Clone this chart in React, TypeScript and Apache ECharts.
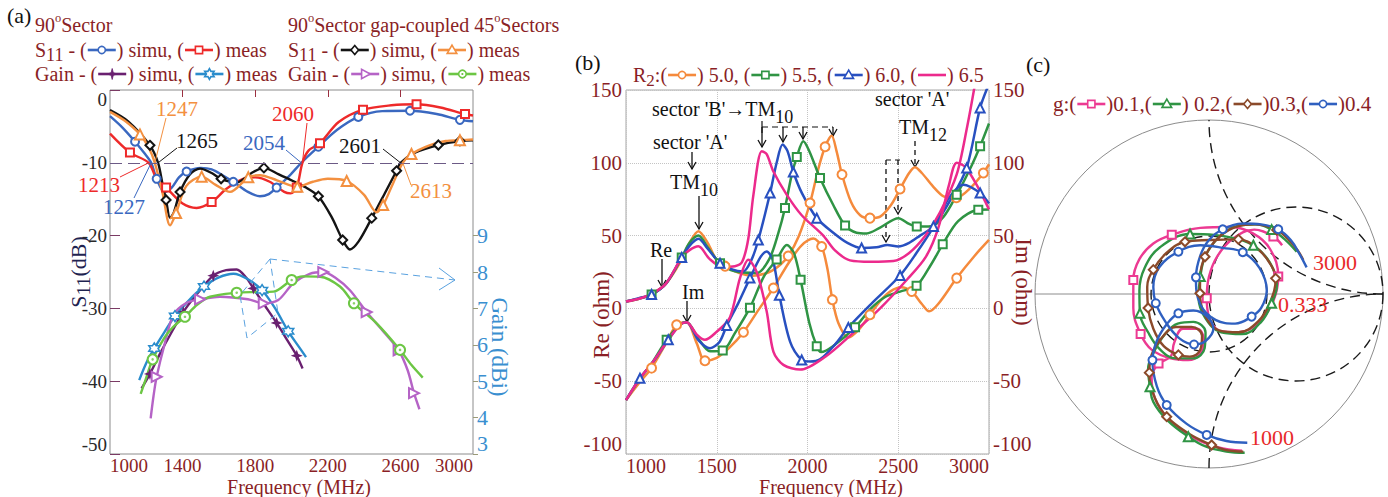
import React, { useEffect, useRef } from 'react';
import * as echarts from 'echarts';

type Pt = number[]; // [x, y, marker?]

const FONT = '"Liberation Serif", "Times New Roman", serif';
const DARK_RED = '#8a1f26';

const COL = {
  blue90: '#3a68c0', red90: '#ee2a2a', blackGap: '#141414', orangeGap: '#f39040',
  purple: '#6a2070', cyan: '#2a8ccc', violet: '#b563c6', lime: '#6cc644',
  r50: '#f58a3c', r55: '#2f9444', r60: '#2850c0', r65: '#ec2a8c',
  g01: '#ec3a92', g02: '#2f9444', g03: '#8b4a2a', g04: '#2f60c0',
};

// ---------- panel (a): S11 and gain ----------
const freqTicksA = [1000, 1400, 1800, 2200, 2600, 3000];
const freqInnerTicksA = [1400, 1800, 2200, 2600];
const gainTicks = [3, 4, 5, 6, 7, 8, 9];
const s11Threshold = -10;

// -10 dB crossings (MHz)
const cross90Simu = [1227, 2054];
const cross90Meas = [1213, 2060];
const crossGapSimu = [1265, 2601];
const crossGapMeas = [1247, 2613];

const s11Sector90Simu: Pt[] = [
  [1000, -3.6], [1070, -5.2], [1138, -7.1, 1], [1190, -8.7], [1227, -10], [1257, -12.2, 1], [1300, -14.0],
  [1340, -13.4], [1380, -12.0], [1422, -11.2, 1], [1500, -10.7], [1560, -10.9], [1620, -11.7], [1679, -12.6, 1],
  [1760, -14.0], [1826, -14.6], [1875, -14.3], [1918, -13.4, 1], [1980, -12.0], [2054, -10], [2148, -7.8, 1],
  [2250, -5.5], [2368, -3.7, 1], [2500, -2.9], [2653, -2.85, 1], [2800, -3.3], [2928, -4.1, 1], [3000, -4.3],
];
const s11Sector90Meas: Pt[] = [
  [1000, -6.0], [1110, -8.6, 1], [1213, -10], [1260, -12.4], [1309, -13.4, 1], [1400, -15.6], [1477, -16.2],
  [1560, -15.4, 1], [1640, -13.6], [1733, -12.2], [1800, -12.0], [1880, -12.6], [1960, -14.0], [1995, -14.2],
  [2029, -13.4, 1], [2060, -10], [2095, -8.3], [2157, -7.3, 1], [2260, -4.4], [2394, -2.7, 1], [2550, -2.1],
  [2689, -1.95, 1], [2820, -2.4], [2956, -3.3, 1], [3000, -3.5],
];
const s11GapSimu: Pt[] = [
  [1000, -2.75], [1100, -4.3], [1220, -7.6, 1], [1265, -10], [1290, -13], [1309, -15.1, 1], [1331, -17.6],
  [1352, -16.8], [1386, -14, 1], [1440, -11.6], [1496, -10.8], [1560, -11.4], [1612, -12.2, 1], [1698, -12.7],
  [1780, -11.4], [1848, -10.7, 1], [1930, -11.6], [2008, -12.5], [2080, -13.4], [2148, -14.6, 1], [2220, -17.4],
  [2282, -20.6, 1], [2322, -21.9], [2370, -20.8], [2442, -17.6, 1], [2520, -13.9], [2579, -11.1, 1], [2601, -10],
  [2680, -8.6], [2809, -7.55, 1], [2928, -7.0, 1], [3000, -6.9],
];
const s11GapMeas: Pt[] = [
  [1000, -3.0], [1080, -4.2], [1165, -6.1, 1], [1215, -8.0], [1247, -10], [1290, -14.2], [1331, -18.6],
  [1364, -16.9, 1], [1420, -13.2], [1505, -11.9, 1], [1580, -13.0], [1661, -14.0], [1762, -12.0, 1],
  [1826, -11.7], [1920, -12.4], [2032, -13.3, 1], [2118, -12.6], [2200, -12.2], [2304, -12.5, 1], [2400, -14.4],
  [2469, -16.8], [2505, -15.8, 1], [2560, -12.8], [2613, -10], [2661, -8.8, 1], [2760, -7.6], [2850, -7.0],
  [2928, -6.9, 1], [3000, -6.8],
];
const gainSector90Simu: Pt[] = [
  [1174, 4.8], [1220, 5.2, 1], [1280, 5.8], [1331, 6.27], [1404, 6.9, 1], [1480, 7.4], [1569, 7.9, 1],
  [1640, 8.05], [1698, 8.07], [1750, 7.85], [1790, 7.55, 1], [1850, 7.1], [1918, 6.6, 1], [1980, 6.1],
  [2029, 5.7, 1], [2061, 5.35],
];
const gainSector90Meas: Pt[] = [
  [1161, 5.03], [1200, 5.5], [1244, 5.9, 1], [1300, 6.35], [1358, 6.79, 1], [1440, 7.25], [1518, 7.6, 1],
  [1600, 7.85], [1680, 7.95], [1760, 7.8], [1838, 7.5, 1], [1910, 7.0], [1982, 6.37, 1], [2040, 5.95], [2080, 5.66],
];
const gainGapSimu: Pt[] = [
  [1224, 3.98], [1240, 4.6], [1257, 5.12, 1], [1300, 6.0], [1349, 6.82], [1420, 7.15], [1496, 7.25, 1],
  [1606, 7.32], [1760, 7.25], [1847, 7.14, 1], [1927, 7.23], [2010, 7.69], [2100, 7.95], [2175, 8.0, 1],
  [2240, 7.85], [2322, 7.5], [2414, 6.9, 1], [2500, 6.4], [2590, 5.85, 1], [2640, 5.3], [2675, 4.67, 1], [2705, 4.23],
];
const gainGapMeas: Pt[] = [
  [1169, 4.65], [1200, 5.1], [1235, 5.6, 1], [1300, 6.2], [1350, 6.5], [1413, 6.77, 1], [1480, 7.1],
  [1551, 7.32], [1698, 7.43, 1], [1800, 7.45], [1900, 7.46], [2001, 7.78, 1], [2060, 7.88], [2157, 7.87],
  [2267, 7.6], [2344, 7.14, 1], [2469, 6.59], [2598, 5.86, 1], [2660, 5.45], [2723, 5.1],
];

// ---------- panel (b): input impedance for R2 ----------
const reR50: Pt[] = [
  [1000, 4.7], [1080, 7], [1150, 10.5], [1220, 17], [1300, 32], [1350, 45], [1399, 53], [1450, 45], [1500, 33],
  [1546, 29, 1], [1620, 24.5], [1700, 22.5], [1790, 25], [1850, 30], [1894, 36, 1], [1950, 49], [2014, 72.4, 1],
  [2060, 96], [2097, 111, 1], [2133, 118.5], [2160, 108], [2190, 92, 1], [2240, 73], [2290, 64], [2344, 62, 1],
  [2400, 63], [2460, 71], [2510, 82, 1], [2560, 93], [2592, 97], [2630, 93], [2690, 84], [2750, 77],
  [2820, 76, 1], [2900, 83], [2969, 93, 1], [3000, 99],
];
const imR50: Pt[] = [
  [1000, -63], [1080, -50], [1141, -41, 1], [1220, -24], [1279, -11.3, 1], [1334, -9.5], [1390, -24],
  [1435, -36, 1], [1500, -34], [1570, -27], [1647, -16.4, 1], [1730, -1], [1812, 14, 1], [1895, 31], [1965, 43],
  [2032, 48], [2078, 42.5, 1], [2110, 27], [2137, 6, 1], [2170, -10], [2225, -20], [2280, -15], [2344, -4.4, 1],
  [2400, 5], [2455, 11.5], [2515, 14.5], [2574, 11.6, 1], [2630, 3], [2670, -2], [2720, 3], [2822, 20.8, 1],
  [2920, 36], [3000, 47],
];
const reR55: Pt[] = [
  [1000, 4.7], [1080, 7], [1141, 9.5, 1], [1220, 17], [1307, 35, 1], [1350, 45], [1399, 50], [1450, 42],
  [1518, 31, 1], [1600, 25.5], [1720, 24.3], [1790, 34], [1840, 52], [1876, 69, 1], [1910, 90], [1941, 104, 1],
  [1977, 114.8], [2010, 108], [2069, 89.6, 1], [2142, 71], [2207, 57, 1], [2270, 52], [2326, 51.5], [2400, 55.5],
  [2501, 62], [2560, 58], [2602, 56.3, 1], [2680, 56.5], [2750, 63], [2822, 78, 1], [2900, 97], [2951, 111.4, 1],
  [3000, 127],
];
const imR55: Pt[] = [
  [1000, -63], [1077, -48], [1141, -38], [1224, -21.6, 1], [1300, -11], [1334, -9.5], [1400, -21], [1463, -29.5],
  [1533, -29, 1], [1600, -17], [1683, 0.5, 1], [1760, 22], [1830, 33.5, 1], [1886, 43.5], [1925, 38],
  [1962, 19.6, 1], [2010, -10], [2051, -26, 1], [2075, -30], [2140, -26], [2262, -13, 1], [2350, 0], [2430, 8],
  [2510, 11.5], [2601, 15.5, 1], [2680, 30], [2745, 44, 1], [2830, 60], [2941, 67.8, 1], [3000, 68],
];
const reR60: Pt[] = [
  [1000, 4.7], [1070, 7], [1141, 9.5, 1], [1220, 17], [1307, 35, 1], [1350, 43], [1399, 47.8], [1450, 41],
  [1518, 31, 1], [1580, 27], [1645, 25.4], [1690, 33], [1729, 47, 1], [1794, 79.3, 1], [1830, 100],
  [1863, 112.5], [1890, 108], [1922, 93.7, 1], [1970, 79], [2051, 62, 1], [2142, 52], [2220, 45],
  [2298, 41.5, 1], [2380, 42], [2440, 43.5], [2500, 42.5], [2560, 45], [2620, 50], [2694, 56.3, 1], [2790, 75],
  [2877, 96.5, 1], [2951, 137.7, 1], [2996, 153],
];
const imR60: Pt[] = [
  [1000, -63], [1077, -48, 1], [1160, -35], [1233, -21.6, 1], [1300, -11], [1334, -9.5], [1400, -22],
  [1463, -27.4], [1515, -23], [1555, -11.8, 1], [1620, 4], [1683, 20.8, 1], [1740, 35], [1775, 39.1], [1810, 33],
  [1845, 9, 1], [1904, -22.8], [1968, -35.4, 1], [2014, -36.5], [2069, -35], [2150, -25], [2225, -13.1, 1],
  [2350, 3], [2510, 22.6, 1], [2600, 38], [2694, 56], [2780, 76], [2859, 85], [2951, 79.3, 1], [3000, 72],
];
const reR65: Pt[] = [
  [1000, 4.7], [1080, 7], [1150, 10.5], [1220, 17], [1307, 35], [1350, 40], [1399, 42.6], [1460, 34],
  [1530, 28.5], [1600, 29], [1640, 32], [1674, 48], [1702, 78], [1748, 108], [1775, 106], [1812, 94], [1886, 78],
  [1968, 64], [2087, 50], [2150, 40], [2234, 33], [2350, 32], [2473, 32.5], [2560, 38], [2650, 50], [2730, 66],
  [2822, 92], [2880, 125], [2920, 152],
];
const imR65: Pt[] = [
  [1000, -63], [1077, -48], [1141, -38], [1233, -21.6], [1300, -11], [1334, -9.5], [1390, -18], [1435, -21.6],
  [1500, -16], [1573, -6], [1628, 20.8], [1674, 33.4], [1720, 25], [1775, -2], [1812, -29.7], [1867, -38.8],
  [1960, -42], [2100, -33], [2250, -17], [2400, 0], [2550, 20], [2650, 35], [2720, 55], [2780, 85], [2822, 100],
  [2870, 97], [2940, 83], [3000, 68],
];

// ---------- panel (c): reflection coefficient (real, imag) ----------
const gammaCircleRadius = 0.333;
const smithG01: Pt[] = [
  [0.19, -0.9], [0.05, -0.88], [-0.1, -0.82], [-0.23, -0.72], [-0.31, -0.6], [-0.33, -0.48], [-0.29, -0.4, 1],
  [-0.22, -0.36], [-0.2, -0.28], [-0.15, -0.2], [-0.07, -0.2], [-0.03, -0.26], [-0.05, -0.34], [-0.12, -0.38],
  [-0.22, -0.37], [-0.33, -0.32], [-0.393, -0.23, 1], [-0.435, -0.08], [-0.435, 0.08, 1], [-0.4, 0.2],
  [-0.32, 0.29], [-0.214, 0.34, 1], [-0.05, 0.38], [0.12, 0.385], [0.25, 0.35], [0.35, 0.26], [0.398, 0.1, 1],
  [0.37, -0.04], [0.29, -0.16], [0.17, -0.22], [0.06, -0.21], [0.0, -0.13], [-0.013, -0.025, 1], [0.0, 0.1],
  [0.05, 0.22], [0.14, 0.32], [0.26, 0.37], [0.37, 0.33, 1], [0.42, 0.28],
];
const smithG02: Pt[] = [
  [0.205, -0.912], [0.1, -0.905], [-0.02, -0.876], [-0.119, -0.82, 1], [-0.24, -0.725], [-0.32, -0.62],
  [-0.339, -0.533, 1], [-0.35, -0.43], [-0.32, -0.34], [-0.26, -0.24], [-0.18, -0.17], [-0.09, -0.16],
  [-0.02, -0.22], [-0.025, -0.31], [-0.09, -0.37], [-0.19, -0.37], [-0.28, -0.32], [-0.35, -0.22],
  [-0.397, -0.111, 1], [-0.4, 0.02], [-0.37, 0.15], [-0.28, 0.27], [-0.109, 0.345, 1], [0.03, 0.34],
  [0.15, 0.32], [0.255, 0.28, 1], [0.35, 0.18], [0.39, 0.05], [0.36, -0.053, 1], [0.3, -0.16], [0.19, -0.23],
  [0.07, -0.22], [-0.02, -0.14], [-0.06, -0.02], [-0.05, 0.1, 1], [-0.02, 0.22], [0.06, 0.33], [0.16, 0.39],
  [0.27, 0.4], [0.36, 0.37, 1], [0.44, 0.31], [0.504, 0.243],
];
const smithG03: Pt[] = [
  [0.197, -0.906], [0.1, -0.897], [0.015, -0.868, 1], [-0.12, -0.8], [-0.243, -0.705, 1], [-0.31, -0.6],
  [-0.343, -0.452, 1], [-0.33, -0.35], [-0.27, -0.25], [-0.19, -0.19], [-0.1, -0.19], [-0.04, -0.24],
  [-0.05, -0.32], [-0.11, -0.36], [-0.176, -0.35, 1], [-0.26, -0.3], [-0.32, -0.2], [-0.35, -0.08, 1],
  [-0.355, 0.04], [-0.32, 0.14, 1], [-0.24, 0.24], [-0.138, 0.3, 1], [0.0, 0.31], [0.169, 0.314, 1],
  [0.29, 0.25], [0.36, 0.16], [0.383, 0.09, 1], [0.35, -0.05], [0.28, -0.16], [0.17, -0.22], [0.06, -0.21],
  [-0.02, -0.13], [-0.052, 0.004, 1], [-0.05, 0.11], [-0.023, 0.214, 1], [0.04, 0.31], [0.14, 0.38],
  [0.26, 0.4], [0.389, 0.368, 1], [0.46, 0.31], [0.51, 0.25], [0.542, 0.195],
];
const smithG04: Pt[] = [
  [0.22, -0.855], [0.1, -0.845], [-0.013, -0.81, 1], [-0.13, -0.745], [-0.243, -0.638, 1], [-0.3, -0.53],
  [-0.325, -0.38, 1], [-0.3, -0.27], [-0.24, -0.17], [-0.176, -0.111, 1], [-0.09, -0.095], [-0.01, -0.13],
  [0.025, -0.2], [-0.02, -0.27], [-0.086, -0.29, 1], [-0.17, -0.255], [-0.25, -0.16], [-0.306, -0.053, 1],
  [-0.32, 0.04], [-0.285, 0.155], [-0.176, 0.243, 1], [-0.05, 0.28], [0.08, 0.265], [0.194, 0.24, 1],
  [0.29, 0.15], [0.332, 0.02], [0.3, -0.08], [0.245, -0.13, 1], [0.15, -0.17], [0.04, -0.15], [-0.05, -0.06],
  [-0.075, 0.096, 1], [-0.05, 0.22], [0.0, 0.31], [0.079, 0.372, 1], [0.2, 0.405], [0.3, 0.4],
  [0.398, 0.372, 1], [0.47, 0.31], [0.52, 0.23], [0.561, 0.153],
];

// ---------- helpers ----------
let measureCtx: CanvasRenderingContext2D | null = null;
function textWidth(s: string, size: number) {
  if (!measureCtx) measureCtx = document.createElement('canvas').getContext('2d');
  measureCtx!.font = `${size}px ${FONT}`;
  return measureCtx!.measureText(s).width;
}

function toData(pts: Pt[]) {
  return pts.map((p) => (p[2] ? [p[0], p[1]] : { value: [p[0], p[1]], symbol: 'none' }));
}

const STAR4 = 'path://M0,-6 L1.6,-1.6 L6,0 L1.6,1.6 L0,6 L-1.6,1.6 L-6,0 L-1.6,-1.6 Z';
const STAR6 = 'path://M0,-6 L1.7,-3 L5.2,-3 L3.5,0 L5.2,3 L1.7,3 L0,6 L-1.7,3 L-5.2,3 L-3.5,0 L-5.2,-3 L-1.7,-3 Z';
const plainNumber = (v: number) => String(v);

function curve(pts: Pt[], o: any) {
  const hollowPath = o.hollowPath;
  return {
    type: 'line',
    xAxisIndex: o.x,
    yAxisIndex: o.y,
    smooth: o.smooth ?? 0.3,
    z: o.z ?? 3,
    symbol: o.symbol ?? 'none',
    symbolSize: o.size ?? 8,
    symbolRotate: o.rotate ?? 0,
    showSymbol: !!o.symbol,
    data: toData(pts),
    lineStyle: { color: o.color, width: o.width ?? 2.4 },
    itemStyle: hollowPath
      ? { color: '#fff', borderColor: o.color, borderWidth: 1.5 }
      : { color: o.color, borderWidth: 1.6 },
    emphasis: { disabled: true },
    silent: true,
  };
}

const ICON_W = 30;
function starPts(cx: number, cy: number, R: number, r: number, n: number) {
  const pts: number[][] = [];
  for (let i = 0; i < n * 2; i++) {
    const a = -Math.PI / 2 + (i * Math.PI) / n;
    const rr = i % 2 === 0 ? R : r;
    pts.push([cx + rr * Math.cos(a), cy + rr * Math.sin(a)]);
  }
  return pts;
}
function iconEls(x: number, color: string, shape: string) {
  const cx = x + ICON_W / 2;
  const cy = 0;
  const hollow = { fill: '#fff', stroke: color, lineWidth: 1.6 };
  const els: any[] = [
    { type: 'line', shape: { x1: x + 1, y1: cy, x2: x + ICON_W - 1, y2: cy }, style: { stroke: color, lineWidth: 2.6 } },
  ];
  const poly = (points: number[][], style: any) => ({ type: 'polygon', shape: { points }, style });
  switch (shape) {
    case 'circle': els.push({ type: 'circle', shape: { cx, cy, r: 3.6 }, style: hollow }); break;
    case 'dotCircle':
      els.push({ type: 'circle', shape: { cx, cy, r: 3.8 }, style: hollow });
      els.push({ type: 'circle', shape: { cx, cy, r: 1.1 }, style: { fill: color } });
      break;
    case 'rect': els.push({ type: 'rect', shape: { x: cx - 3.6, y: cy - 3.6, width: 7.2, height: 7.2 }, style: hollow }); break;
    case 'diamond': els.push(poly([[cx, cy - 4.6], [cx + 3.8, cy], [cx, cy + 4.6], [cx - 3.8, cy]], hollow)); break;
    case 'triangle': els.push(poly([[cx, cy - 4.8], [cx + 4.8, cy + 3.4], [cx - 4.8, cy + 3.4]], hollow)); break;
    case 'triR': els.push(poly([[cx + 5, cy], [cx - 3.6, cy - 4.6], [cx - 3.6, cy + 4.6]], hollow)); break;
    case 'star4': els.push(poly(starPts(cx, cy, 5.5, 1.6, 4), { fill: color, stroke: color, lineWidth: 0.8 })); break;
    case 'star6': els.push(poly(starPts(cx, cy, 5.4, 3, 6), hollow)); break;
    default: break;
  }
  return els;
}

type Seg = { t?: string; scale?: number; dy?: number; color?: string; icon?: [string, string] };

function richLine(segs: Seg[], size: number, color: string, x0: number, y0: number, opts: any = {}) {
  const children: any[] = [];
  let x = 0;
  for (const s of segs) {
    if (s.icon) {
      children.push(...iconEls(x, s.icon[0], s.icon[1]));
      x += ICON_W;
      continue;
    }
    const fs = size * (s.scale ?? 1);
    children.push({
      type: 'text',
      x,
      y: s.dy ?? 0,
      style: {
        text: s.t, font: `${fs}px ${FONT}`, fill: s.color ?? color,
        textAlign: 'left', textVerticalAlign: 'middle',
      },
    });
    x += textWidth(s.t as string, fs);
  }
  const shift = opts.center ? -x / 2 : 0;
  return {
    type: 'group', x: x0, y: y0, rotation: opts.rotation ?? 0, z: 50,
    children: [{ type: 'group', x: shift, children }],
  };
}

function plainText(text: string, x: number, y: number, size: number, color: string, align = 'left') {
  return {
    type: 'text', x, y, z: 50,
    style: { text, font: `${size}px ${FONT}`, fill: color, textAlign: align, textVerticalAlign: 'middle' },
  };
}

function arrowDown(x: number, y1: number, y2: number, dashed = false, color = '#111') {
  const line: any = { stroke: color, lineWidth: 1.3 };
  if (dashed) line.lineDash = [5, 4];
  return {
    type: 'group', z: 50,
    children: [
      { type: 'line', shape: { x1: x, y1, x2: x, y2 }, style: line },
      { type: 'polyline', shape: { points: [[x - 4, y2 - 7], [x, y2], [x + 4, y2 - 7]] }, style: { stroke: color, lineWidth: 1.3, fill: 'none' } },
    ],
  };
}

function buildOption() {
  const axisFont = { fontFamily: FONT };
  const series: any[] = [];

  // panel (a): S11
  const s11a = curve(s11Sector90Simu, { x: 0, y: 0, color: COL.blue90, symbol: 'emptyCircle', size: 8 });
  (s11a as any).markLine = {
    silent: true, symbol: ['none', 'none'], label: { show: false },
    lineStyle: { color: '#6c5a86', width: 1, type: [12, 6] },
    data: [{ yAxis: s11Threshold }],
  };
  series.push(s11a);
  series.push(curve(s11Sector90Meas, { x: 0, y: 0, color: COL.red90, symbol: 'emptyRect', size: 8 }));
  series.push(curve(s11GapSimu, { x: 0, y: 0, color: COL.blackGap, symbol: 'emptyDiamond', size: 9 }));
  series.push(curve(s11GapMeas, { x: 0, y: 0, color: COL.orangeGap, symbol: 'emptyTriangle', size: 10 }));
  // panel (a): gain
  series.push(curve(gainSector90Simu, { x: 0, y: 1, color: COL.purple, symbol: STAR4, size: 12 }));
  series.push(curve(gainSector90Meas, { x: 0, y: 1, color: COL.cyan, symbol: STAR6, size: 11, hollowPath: true }));
  series.push(curve(gainGapSimu, { x: 0, y: 1, color: COL.violet, symbol: 'emptyTriangle', size: 10, rotate: -90 }));
  series.push(curve(gainGapMeas, { x: 0, y: 1, color: COL.lime, symbol: 'emptyCircle', size: 10 }));
  series.push({
    type: 'scatter', xAxisIndex: 0, yAxisIndex: 1, symbol: 'circle', symbolSize: 2.6, silent: true, z: 4,
    itemStyle: { color: COL.lime }, data: gainGapMeas.filter((p) => p[2]).map((p) => [p[0], p[1]]),
  });

  // panel (b)
  const bSets: [Pt[], Pt[], string, string, number][] = [
    [reR50, imR50, COL.r50, 'emptyCircle', 9],
    [reR55, imR55, COL.r55, 'emptyRect', 8],
    [reR60, imR60, COL.r60, 'emptyTriangle', 9],
    [reR65, imR65, COL.r65, '', 0],
  ];
  for (const [re, im, color, sym, size] of bSets) {
    series.push(curve(re, { x: 2, y: 2, color, symbol: sym || undefined, size, width: 2.5 }));
    series.push(curve(im, { x: 2, y: 2, color, symbol: sym || undefined, size, width: 2.5 }));
  }

  // panel (c): chart grid circles
  series.push({
    type: 'custom', xAxisIndex: 3, yAxisIndex: 4, data: [[0, 0]], silent: true, z: 1,
    renderItem: (_p: any, api: any) => {
      const o = api.coord([0, 0]);
      const e = api.coord([1, 0]);
      const R = e[0] - o[0];
      const dash = { fill: 'none', stroke: '#1a1a1a', lineWidth: 1.4, lineDash: [10, 6] };
      return {
        type: 'group',
        children: [
          { type: 'circle', shape: { cx: o[0], cy: o[1], r: R }, style: { fill: 'none', stroke: '#8c8c8c', lineWidth: 1 } },
          { type: 'line', shape: { x1: o[0] - R, y1: o[1], x2: o[0] + R, y2: o[1] }, style: { stroke: '#8c8c8c', lineWidth: 1 } },
          { type: 'circle', shape: { cx: o[0], cy: o[1], r: R * gammaCircleRadius }, style: dash },
          { type: 'circle', shape: { cx: o[0] + R * 0.5, cy: o[1], r: R * 0.5 }, style: dash },
          { type: 'arc', shape: { cx: o[0] + R, cy: o[1] - R, r: R, startAngle: Math.PI / 2, endAngle: Math.PI, clockwise: true }, style: dash },
          { type: 'arc', shape: { cx: o[0] + R, cy: o[1] + R, r: R, startAngle: Math.PI, endAngle: Math.PI * 1.5, clockwise: true }, style: dash },
        ],
      };
    },
  });
  series.push(curve(smithG01, { x: 3, y: 4, color: COL.g01, symbol: 'emptyRect', size: 8, smooth: 0.4 }));
  series.push(curve(smithG02, { x: 3, y: 4, color: COL.g02, symbol: 'emptyTriangle', size: 9, smooth: 0.4 }));
  series.push(curve(smithG03, { x: 3, y: 4, color: COL.g03, symbol: 'emptyDiamond', size: 9, smooth: 0.4 }));
  series.push(curve(smithG04, { x: 3, y: 4, color: COL.g04, symbol: 'emptyCircle', size: 8, smooth: 0.4 }));

  return {
    animation: false,
    textStyle: axisFont,
    grid: [
      { left: 110, top: 90, width: 363, height: 364, show: true, borderColor: '#8c8c8c', borderWidth: 1 },
      { left: 626, top: 90, width: 363, height: 364, show: true, borderColor: '#a6a6a6', borderWidth: 1 },
      { left: 1035, top: 120, width: 348, height: 348, show: false },
    ],
    xAxis: [
      {
        gridIndex: 0, type: 'value', min: 1000, max: 3000, position: 'bottom',
        axisLine: { show: false }, axisTick: { show: false }, splitLine: { show: false },
        axisLabel: {
          customValues: freqTicksA, color: DARK_RED, fontSize: 19, fontFamily: FONT, margin: 2,
          alignMinLabel: 'left', alignMaxLabel: 'right', formatter: plainNumber,
        },
      },
      {
        gridIndex: 0, type: 'value', min: 1000, max: 3000, position: 'top',
        axisLine: { show: false }, splitLine: { show: false }, axisLabel: { show: false },
        axisTick: { show: true, inside: true, length: 7, customValues: freqInnerTicksA, lineStyle: { color: '#9b3040', width: 1 } },
      },
      {
        gridIndex: 1, type: 'value', min: 1000, max: 3000, interval: 500,
        axisLine: { show: false }, axisTick: { show: false },
        splitLine: { show: true, lineStyle: { type: 'dotted', color: '#c4c4c4' } },
        axisLabel: {
          color: DARK_RED, fontSize: 20, fontFamily: FONT, margin: 2,
          alignMinLabel: 'left', alignMaxLabel: 'right', formatter: plainNumber,
        },
      },
      { gridIndex: 2, type: 'value', min: -1, max: 1, show: false },
    ],
    yAxis: [
      {
        gridIndex: 0, type: 'value', min: -50, max: 0, interval: 10,
        axisLine: { show: false }, splitLine: { show: false },
        axisTick: { show: true, inside: true, length: 10, lineStyle: { color: '#7a3a64' } },
        axisLabel: {
          color: '#2a2a2a', fontSize: 19, fontFamily: FONT, margin: 3,
          verticalAlignMinLabel: 'bottom', verticalAlignMaxLabel: 'top',
        },
      },
      {
        gridIndex: 0, type: 'value', min: 3, max: 13, interval: 1, position: 'right',
        axisLine: { show: false }, splitLine: { show: false },
        axisTick: { show: true, length: 5, customValues: gainTicks, lineStyle: { color: '#9a9a78' } },
        axisLabel: {
          customValues: gainTicks, color: '#3a8fd0', fontSize: 22, fontFamily: FONT, margin: 4,
          verticalAlignMinLabel: 'bottom', formatter: (v: number) => (v <= 9 ? String(v) : ''),
        },
      },
      {
        gridIndex: 1, type: 'value', min: -100, max: 150, interval: 50,
        axisLine: { show: false }, axisTick: { show: false },
        splitLine: { show: true, lineStyle: { type: 'dotted', color: '#c4c4c4' } },
        axisLabel: { color: DARK_RED, fontSize: 21, fontFamily: FONT, margin: 4, verticalAlignMinLabel: 'bottom' },
      },
      {
        gridIndex: 1, type: 'value', min: -100, max: 150, interval: 50, position: 'right',
        axisLine: { show: false }, axisTick: { show: false }, splitLine: { show: false },
        axisLabel: { color: DARK_RED, fontSize: 21, fontFamily: FONT, margin: 4, verticalAlignMinLabel: 'bottom' },
      },
      { gridIndex: 2, type: 'value', min: -1, max: 1, show: false },
    ],
    series,
  };
}

function buildGraphics(chart: any) {
  const els: any[] = [];
  const LS = 20;
  const sup = (t: string): Seg => ({ t, scale: 0.62, dy: -7 });
  const sub = (t: string): Seg => ({ t, scale: 0.9, dy: 5 });

  // panel letters
  els.push(plainText('(a)', 7, 15, 22, '#111'));
  els.push(plainText('(b)', 575, 62, 22, '#111'));
  els.push(plainText('(c)', 1026, 64, 22, '#111'));

  // panel (a) legend
  els.push(richLine([{ t: '90' }, sup('o'), { t: 'Sector' }], LS, DARK_RED, 35, 25));
  els.push(richLine([{ t: '90' }, sup('o'), { t: 'Sector gap-coupled 45' }, sup('o'), { t: 'Sectors' }], LS, DARK_RED, 288, 25));
  els.push(richLine([{ t: 'S' }, sub('11'), { t: ' - (' }, { icon: [COL.blue90, 'circle'] }, { t: ') simu, (' },
    { icon: [COL.red90, 'rect'] }, { t: ') meas' }], LS, DARK_RED, 35, 50));
  els.push(richLine([{ t: 'S' }, sub('11'), { t: ' - (' }, { icon: [COL.blackGap, 'diamond'] }, { t: ') simu, (' },
    { icon: [COL.orangeGap, 'triangle'] }, { t: ') meas' }], LS, DARK_RED, 288, 50));
  els.push(richLine([{ t: 'Gain - (' }, { icon: [COL.purple, 'star4'] }, { t: ') simu, (' },
    { icon: [COL.cyan, 'star6'] }, { t: ') meas' }], LS, DARK_RED, 35, 74));
  els.push(richLine([{ t: 'Gain - (' }, { icon: [COL.violet, 'triR'] }, { t: ') simu, (' },
    { icon: [COL.lime, 'dotCircle'] }, { t: ') meas' }], LS, DARK_RED, 288, 74));

  // panel (a) axis names
  els.push(richLine([{ t: 'S' }, sub('11'), { t: '(dB)' }], 22, '#1f2350', 78, 272, { center: true, rotation: Math.PI / 2 }));
  els.push(richLine([{ t: 'Gain (dBi)' }], 23, '#3a8fd0', 499, 347, { center: true, rotation: -Math.PI / 2 }));
  els.push(plainText('Frequency (MHz)', 299, 487, 20, DARK_RED, 'center'));

  // panel (a) -10 dB crossing labels
  const crossLayout = [
    { f: crossGapMeas[0], c: COL.orangeGap, tx: 177, ty: 109, lx: 166, ly: 118 },
    { f: crossGapSimu[0], c: COL.blackGap, tx: 197, ty: 141, lx: 177, ly: 148 },
    { f: cross90Meas[0], c: COL.red90, tx: 99, ty: 185, lx: 120, ly: 177 },
    { f: cross90Simu[0], c: COL.blue90, tx: 124, ty: 207, lx: 134, ly: 198 },
    { f: cross90Simu[1], c: COL.blue90, tx: 264, ty: 143, lx: 286, ly: 150 },
    { f: cross90Meas[1], c: COL.red90, tx: 293, ty: 114, lx: 307, ly: 123 },
    { f: crossGapSimu[1], c: COL.blackGap, tx: 360, ty: 146, lx: 383, ly: 149 },
    { f: crossGapMeas[1], c: COL.orangeGap, tx: 431, ty: 191, lx: 411, ly: 185 },
  ];
  for (const a of crossLayout) {
    const p = chart.convertToPixel({ xAxisIndex: 0, yAxisIndex: 0 }, [a.f, s11Threshold]);
    els.push({ type: 'line', z: 40, shape: { x1: a.lx, y1: a.ly, x2: p[0], y2: p[1] }, style: { stroke: a.c, lineWidth: 1 } });
    els.push(plainText(String(a.f), a.tx, a.ty, 21, a.c, 'center'));
  }

  // panel (a) radiation pattern sketch
  const sketch = { stroke: '#5aa2e0', lineWidth: 1, lineDash: [7, 5], fill: 'none' };
  els.push({ type: 'polygon', z: 40, shape: { points: [[270, 259], [240, 295], [247, 338], [278, 313]] }, style: sketch });
  els.push({ type: 'polyline', z: 40, shape: { points: [[270, 259], [455, 280]] }, style: sketch });
  els.push({ type: 'polyline', z: 40, shape: { points: [[439, 268], [455, 280], [439, 290]] }, style: { stroke: '#5aa2e0', lineWidth: 1, fill: 'none' } });

  // panel (b) legend and axis names
  els.push(richLine([{ t: 'R' }, { t: '2', scale: 0.85, dy: 5 }, { t: ':(' }, { icon: [COL.r50, 'circle'] }, { t: ') 5.0, (' },
    { icon: [COL.r55, 'rect'] }, { t: ') 5.5, (' }, { icon: [COL.r60, 'triangle'] }, { t: ') 6.0, (' },
    { icon: [COL.r65, 'none'] }, { t: ') 6.5' }], 20, DARK_RED, 633, 75));
  els.push(richLine([{ t: 'Re (ohm)' }], 23, DARK_RED, 601, 315, { center: true, rotation: Math.PI / 2 }));
  els.push(richLine([{ t: 'Im (ohm)' }], 23, DARK_RED, 1023, 282, { center: true, rotation: -Math.PI / 2 }));
  els.push(plainText('Frequency (MHz)', 831, 487, 20, DARK_RED, 'center'));

  // panel (b) mode annotations
  const tm = (n: string): Seg[] => [{ t: 'TM' }, { t: n, scale: 0.9, dy: 8 }];
  els.push(richLine([{ t: "sector 'B'" }, { t: '\u2192' }, ...tm('10')], 20, '#111', 652, 109));
  els.push(richLine([{ t: "sector 'A'" }], 20, '#111', 653, 142));
  els.push(richLine(tm('10'), 20, '#111', 670, 182));
  els.push(richLine([{ t: 'Re' }], 20, '#111', 650, 250));
  els.push(richLine([{ t: 'Im' }], 20, '#111', 682, 292));
  els.push(arrowDown(692, 152, 169));
  els.push(arrowDown(699, 196, 229));
  els.push(arrowDown(662, 259, 287));
  els.push(arrowDown(687, 301, 322));
  // bracket over the sector 'B' TM10 peaks
  els.push({ type: 'line', z: 50, shape: { x1: 762, y1: 127, x2: 833, y2: 127 }, style: { stroke: '#111', lineWidth: 1.2, lineDash: [6, 4] } });
  els.push({ type: 'line', z: 50, shape: { x1: 762, y1: 121, x2: 762, y2: 133 }, style: { stroke: '#111', lineWidth: 1.2 } });
  els.push(arrowDown(762, 127, 147));
  els.push(arrowDown(783, 127, 142));
  els.push(arrowDown(803, 127, 139));
  els.push(arrowDown(833, 127, 136));
  // sector 'A' TM12
  els.push(richLine([{ t: "sector 'A'" }], 20, '#111', 875, 99));
  els.push(richLine(tm('12'), 20, '#111', 899, 127));
  els.push(arrowDown(915, 141, 167, true));
  els.push({ type: 'line', z: 50, shape: { x1: 886, y1: 160, x2: 903, y2: 160 }, style: { stroke: '#111', lineWidth: 1.2, lineDash: [5, 4] } });
  els.push(arrowDown(886, 160, 242, true));
  els.push(arrowDown(898, 160, 214, true));

  // panel (c) legend and labels
  els.push(richLine([{ t: 'g:(' }, { icon: [COL.g01, 'rect'] }, { t: ')0.1,(' }, { icon: [COL.g02, 'triangle'] },
    { t: ') 0.2,(' }, { icon: [COL.g03, 'diamond'] }, { t: ')0.3,(' }, { icon: [COL.g04, 'circle'] }, { t: ')0.4' }],
    21, DARK_RED, 1053, 104));
  els.push(plainText('3000', 1313, 262, 22, '#e82a2a'));
  els.push(plainText('1000', 1250, 437, 22, '#e82a2a'));
  els.push(plainText(String(gammaCircleRadius), 1278, 304, 22, '#e82a2a'));

  return { elements: els };
}

export default function App() {
  const ref = useRef<HTMLDivElement>(null);
  useEffect(() => {
    if (!ref.current) return;
    const chart = echarts.init(ref.current, null, { renderer: 'svg' });
    chart.setOption(buildOption() as any);
    chart.setOption({ graphic: buildGraphics(chart) } as any);
    return () => chart.dispose();
  }, []);
  return (
    <div
      ref={ref}
      style={{ position: 'fixed', left: 0, top: 0, width: 1388, height: 497, background: '#fff' }}
    />
  );
}
